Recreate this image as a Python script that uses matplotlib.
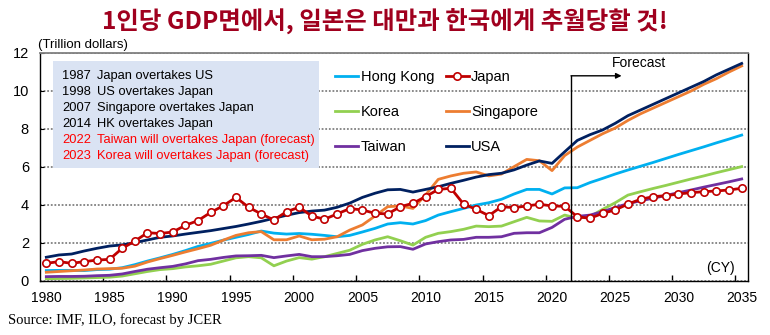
import matplotlib.pyplot as plt
from matplotlib.patches import Rectangle

plt.rcParams['font.family'] = ['Liberation Sans', 'DejaVu Sans']

# GDP series, 1980-2035 (2022 onward is forecast)
years = list(range(1980, 2036))
hong_kong = [0.55, 0.56, 0.56, 0.55, 0.60, 0.62, 0.70, 0.86, 1.05, 1.22,
             1.40, 1.60, 1.82, 1.98, 2.15, 2.30, 2.45, 2.63, 2.52, 2.47,
             2.50, 2.46, 2.40, 2.33, 2.40, 2.58, 2.77, 3.00, 3.07, 3.00,
             3.18, 3.47, 3.65, 3.82, 4.00, 4.12, 4.30, 4.58, 4.82, 4.82,
             4.58, 4.90, 4.91, 5.18, 5.40, 5.63, 5.84, 6.04, 6.24, 6.45,
             6.66, 6.86, 7.06, 7.27, 7.47, 7.68]
japan = [0.93, 1.02, 0.93, 1.02, 1.10, 1.14, 1.72, 2.10, 2.54, 2.50,
         2.58, 2.93, 3.18, 3.61, 3.96, 4.40, 3.88, 3.53, 3.21, 3.65,
         3.88, 3.42, 3.25, 3.53, 3.81, 3.74, 3.56, 3.53, 3.91, 4.09,
         4.44, 4.82, 4.88, 4.05, 3.77, 3.44, 3.91, 3.86, 3.95, 4.04,
         3.95, 3.93, 3.38, 3.30, 3.56, 3.74, 4.05, 4.30, 4.44, 4.49,
         4.58, 4.65, 4.70, 4.74, 4.79, 4.88]
korea = [0.12, 0.13, 0.14, 0.16, 0.18, 0.20, 0.26, 0.38, 0.50, 0.60,
         0.65, 0.74, 0.80, 0.88, 1.05, 1.22, 1.28, 1.22, 0.80, 1.05,
         1.23, 1.15, 1.28, 1.45, 1.62, 1.93, 2.16, 2.33, 2.12, 1.89,
         2.30, 2.51, 2.60, 2.72, 2.89, 2.86, 2.89, 3.12, 3.35, 3.16,
         3.14, 3.47, 3.30, 3.39, 3.77, 4.12, 4.52, 4.70, 4.87, 5.03,
         5.20, 5.37, 5.53, 5.70, 5.86, 6.02]
singapore = [0.46, 0.50, 0.54, 0.58, 0.63, 0.65, 0.67, 0.78, 1.00, 1.18,
             1.35, 1.53, 1.70, 1.88, 2.15, 2.40, 2.54, 2.60, 2.17, 2.17,
             2.37, 2.17, 2.20, 2.33, 2.68, 2.95, 3.42, 3.91, 3.95, 3.82,
             4.53, 5.35, 5.53, 5.67, 5.74, 5.53, 5.63, 6.02, 6.40, 6.33,
             5.81, 6.60, 7.05, 7.40, 7.75, 8.05, 8.45, 8.80, 9.10, 9.40,
             9.70, 10.00, 10.35, 10.65, 11.00, 11.32]
taiwan = [0.23, 0.24, 0.24, 0.25, 0.28, 0.30, 0.37, 0.50, 0.62, 0.70,
          0.77, 0.90, 1.07, 1.14, 1.24, 1.32, 1.33, 1.35, 1.23, 1.32,
          1.40, 1.28, 1.28, 1.33, 1.40, 1.60, 1.72, 1.80, 1.81, 1.67,
          1.95, 2.07, 2.16, 2.19, 2.30, 2.30, 2.33, 2.51, 2.54, 2.54,
          2.82, 3.25, 3.40, 3.47, 3.65, 3.87, 4.07, 4.22, 4.36, 4.50,
          4.65, 4.79, 4.94, 5.08, 5.22, 5.37]
usa = [1.25, 1.37, 1.42, 1.58, 1.72, 1.84, 1.90, 2.02, 2.16, 2.30,
       2.37, 2.47, 2.56, 2.65, 2.76, 2.87, 3.00, 3.14, 3.30, 3.46,
       3.60, 3.68, 3.73, 3.88, 4.10, 4.40, 4.62, 4.80, 4.82, 4.68,
       4.82, 4.96, 5.14, 5.30, 5.47, 5.60, 5.67, 5.85, 6.10, 6.32,
       6.19, 6.80, 7.40, 7.70, 7.95, 8.30, 8.70, 9.00, 9.30, 9.60,
       9.90, 10.20, 10.50, 10.85, 11.15, 11.45]

forecast_start = 2021.5

event_years = ["1987", "1998", "2007", "2014", "2022", "2023"]
event_notes = ["Japan overtakes US",
               "US overtakes Japan",
               "Singapore overtakes Japan",
               "HK overtakes Japan",
               "Taiwan will overtakes Japan (forecast)",
               "Korea will overtakes Japan (forecast)"]
event_colors = ["black", "black", "black", "black", "#ff0000", "#ff0000"]

fig = plt.figure(figsize=(7.7, 3.35), dpi=100)
ax = fig.add_axes([40 / 770, 1 - 281 / 335, 708 / 770, 228 / 335])

lw = 2.0
l_kr, = ax.plot(years, korea, color='#92d050', lw=lw, label='Korea', zorder=3)
l_tw, = ax.plot(years, taiwan, color='#7030a0', lw=lw, label='Taiwan', zorder=3)
l_hk, = ax.plot(years, hong_kong, color='#00b0f0', lw=lw, label='Hong Kong', zorder=3)
l_sg, = ax.plot(years, singapore, color='#ed7d31', lw=lw, label='Singapore', zorder=3)
l_us, = ax.plot(years, usa, color='#002060', lw=lw, label='USA', zorder=4)
l_jp, = ax.plot(years, japan, color='#c00000', lw=lw, marker='o', markersize=5.3,
                markerfacecolor='white', markeredgecolor='#c00000',
                markeredgewidth=1.2, label='Japan', zorder=5)

ax.set_xlim(1979.5, 2035.5)
ax.set_ylim(0, 12)
ax.set_yticks(range(0, 13, 2))
ax.set_xticks(range(1980, 2036, 5))
ax.set_xticks([y - 0.5 for y in range(1985, 2036, 5)], minor=True)
ax.tick_params(axis='x', which='major', length=0, labelsize=10, pad=7)
ax.tick_params(axis='x', which='minor', length=4, direction='in', width=1)
ax.tick_params(axis='y', length=3, direction='in', labelsize=10.5, pad=8)

ax.set_axisbelow(True)
ax.yaxis.grid(True, color='#808080', linestyle=(0, (1, 1)), lw=1.3)
for side in ['left', 'bottom', 'right']:
    ax.spines[side].set_color('black')
    ax.spines[side].set_linewidth(1)
ax.spines['top'].set_color('#808080')
ax.spines['top'].set_linestyle((0, (1, 1)))
ax.spines['top'].set_linewidth(1.3)

# event notes box
ax.add_patch(Rectangle((0.018, 0.496), 0.376, 0.469, transform=ax.transAxes,
                       facecolor='#dae3f3', edgecolor='none', zorder=2))
for i in range(len(event_years)):
    yy = 0.899 - i * 0.0702
    ax.text(0.031, yy, event_years[i], transform=ax.transAxes, fontsize=9.3,
            color=event_colors[i], va='center', zorder=6)
    ax.text(0.0805, yy, event_notes[i], transform=ax.transAxes, fontsize=9.3,
            color=event_colors[i], va='center', zorder=6)

# forecast marker
ax.plot([forecast_start, forecast_start], [0, 10.8], color='black', lw=1, zorder=6)
ax.annotate('', xy=(forecast_start + 4, 10.8), xytext=(forecast_start, 10.8),
            arrowprops=dict(arrowstyle='-|>', color='black', lw=1,
                            mutation_scale=8, shrinkA=0, shrinkB=0), zorder=6)
ax.text(2026.9, 11.47, 'Forecast', fontsize=10, ha='center', va='center')
ax.text(2033.3, 0.68, '(CY)', fontsize=10, ha='center', va='center')

handles = [l_hk, l_kr, l_tw, l_jp, l_sg, l_us]
fig.legend(handles=handles, ncol=2, loc='upper left',
           bbox_to_anchor=(335 / 770, 1 - 70 / 335), frameon=False,
           fontsize=10.5, handlelength=1.6, handletextpad=0.15,
           labelspacing=1.45, columnspacing=0.8, borderpad=0, borderaxespad=0)

fig.text(0.5, 1 - 22 / 335, '1인당 GDP면에서, 일본은 대만과 한국에게 추월당할 것!',
         family=['Noto Sans CJK KR', 'DejaVu Sans'], fontweight='bold',
         fontsize=17.6, color='#a0001e', ha='center', va='center')
fig.text(38 / 770, 1 - 45 / 335, '(Trillion dollars)', fontsize=9.5,
         va='center')
fig.text(8 / 770, 1 - 320 / 335, 'Source: IMF, ILO, forecast by JCER',
         family='Liberation Serif', fontsize=10.5, va='center')

fig.savefig('out.png', dpi=100)
